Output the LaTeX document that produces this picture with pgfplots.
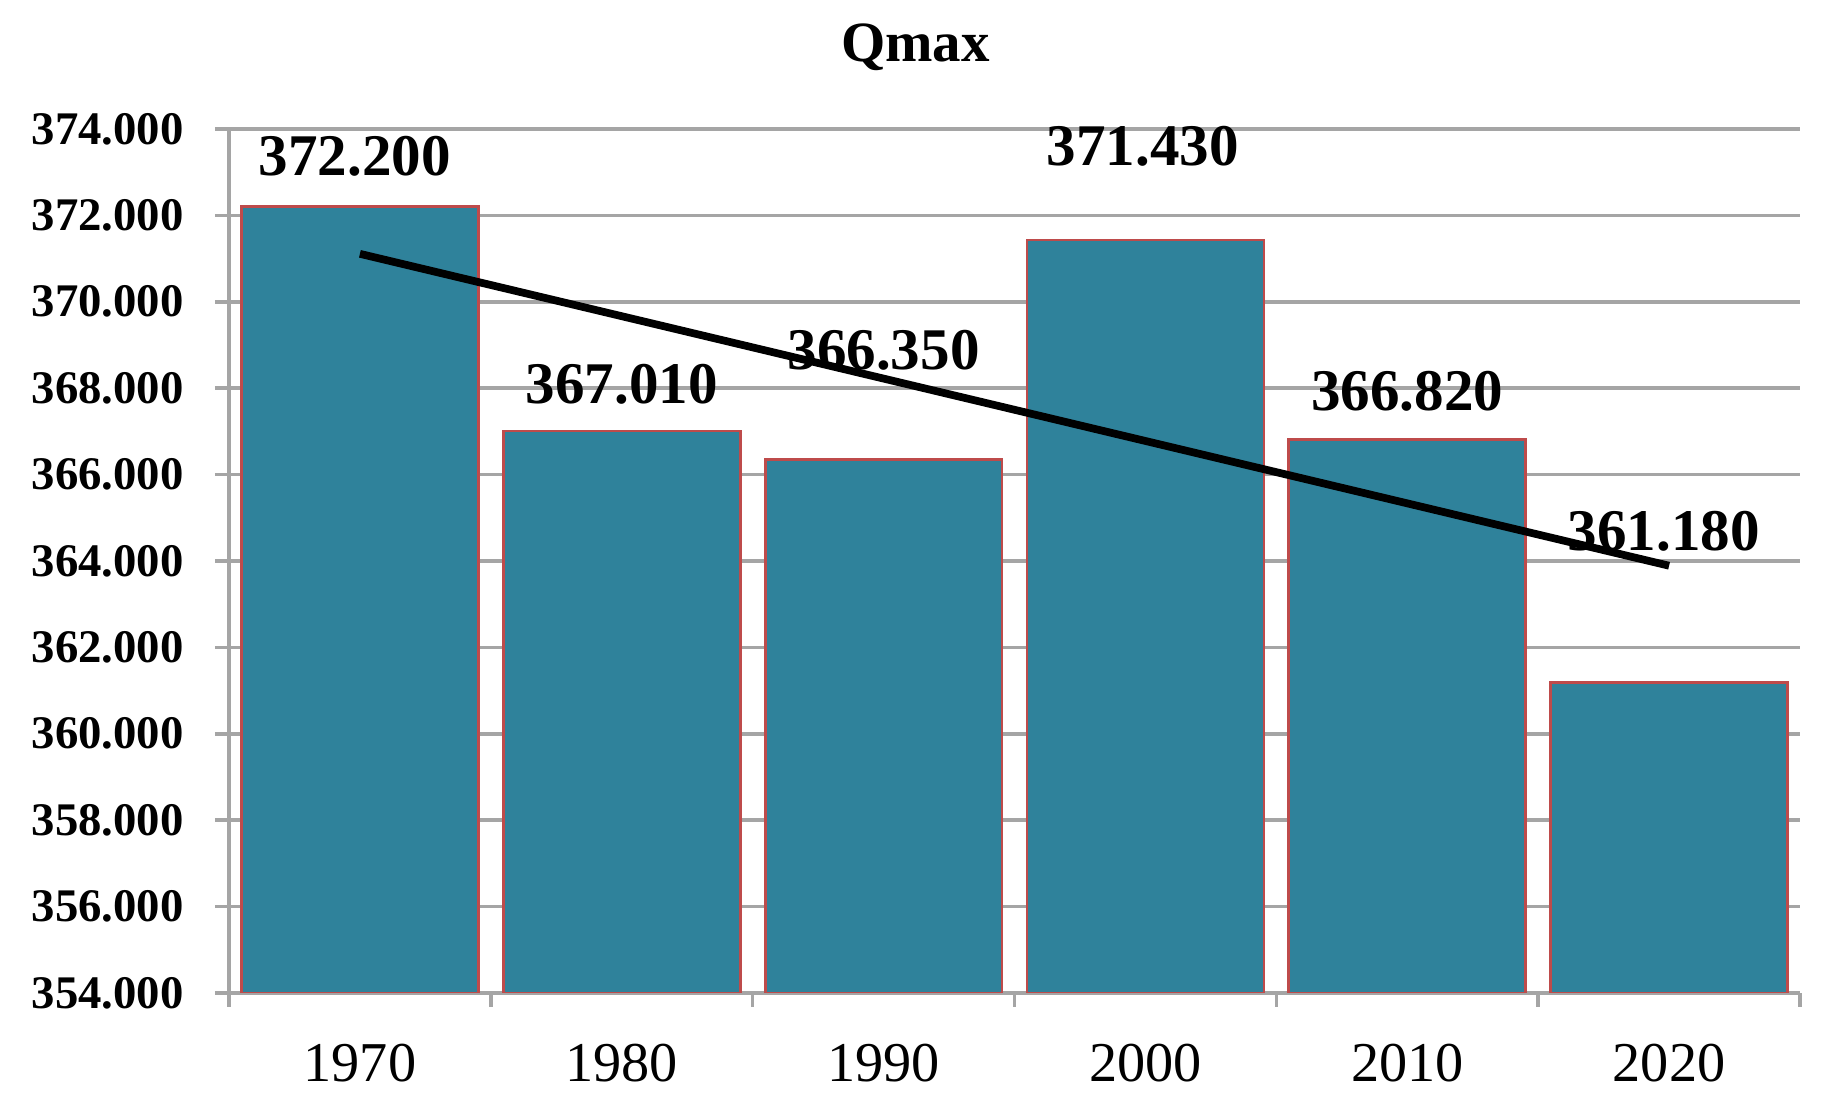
\documentclass[border=0pt]{standalone}
\usepackage{pgfplots}
\pgfplotsset{compat=1.18}
\usepackage{fontspec}
\setmainfont{Liberation Serif}
\definecolor{barfill}{RGB}{47,130,155}
\definecolor{barline}{RGB}{190,75,75}
\definecolor{gridgray}{RGB}{165,165,165}
\begin{document}
\begin{tikzpicture}
\begin{axis}[
  scale only axis,
  width=15.71cm, height=8.64cm,
  xmin=-0.5, xmax=5.5,
  ymin=354, ymax=374,
  ytick={354,356,...,374},
  xtick={0,...,5},
  xticklabels={1970,1980,1990,2000,2010,2020},
  minor xtick={-0.5,0.5,...,5.5},
  axis x line*=bottom,
  axis y line*=left,
  axis line style={draw=gridgray, line width=1pt},
  ymajorgrids,
  grid style={draw=gridgray, line width=1pt},
  tick align=outside,
  tick pos=left,
  major tick length=0.14cm,
  minor tick length=0.14cm,
  x tick style={draw=none},
  minor x tick style={draw=gridgray, line width=1pt},
  y tick style={draw=gridgray, line width=1pt},
  /pgf/number format/assume math mode=true,
  yticklabel style={/pgf/number format/.cd, fixed, fixed zerofill, precision=3, 1000 sep={},
    /tikz/.cd, font=\fontsize{13.3}{15}\selectfont\bfseries, anchor=east, xshift=-0.19cm},
  xticklabel style={font=\fontsize{16}{18}\selectfont, anchor=center, yshift=-0.56cm},
  title={Qmax},
  title style={font=\fontsize{16.2}{18}\selectfont\bfseries, at={(0.437,1)}, anchor=center, yshift=0.61cm},
  clip=true,
]
\addplot[ybar, bar width=0.905, fill=barfill, draw=barline, line width=0.8pt]
  coordinates {(0,372.200) (1,367.010) (2,366.350) (3,371.430) (4,366.820) (5,361.180)};
\addplot[black, line width=2.2pt, mark=none]
  coordinates {(0,371.11) (5,363.89)};
\addplot[only marks, mark=none, point meta=explicit symbolic,
  nodes near coords,
  nodes near coords style={anchor=center, font=\fontsize{16.8}{19}\selectfont\bfseries, text=black}]
  coordinates {(-0.02,373.37) [372.200] (1,368.10) [367.010] (2,368.88) [366.350]
               (2.99,373.59) [371.430] (4,367.93) [366.820] (4.98,364.69) [361.180]};
\end{axis}
\path ([xshift=-2.29cm,yshift=-1.17cm]current axis.south west) rectangle ([xshift=0.4cm,yshift=1.29cm]current axis.north east);
\end{tikzpicture}
\end{document}
